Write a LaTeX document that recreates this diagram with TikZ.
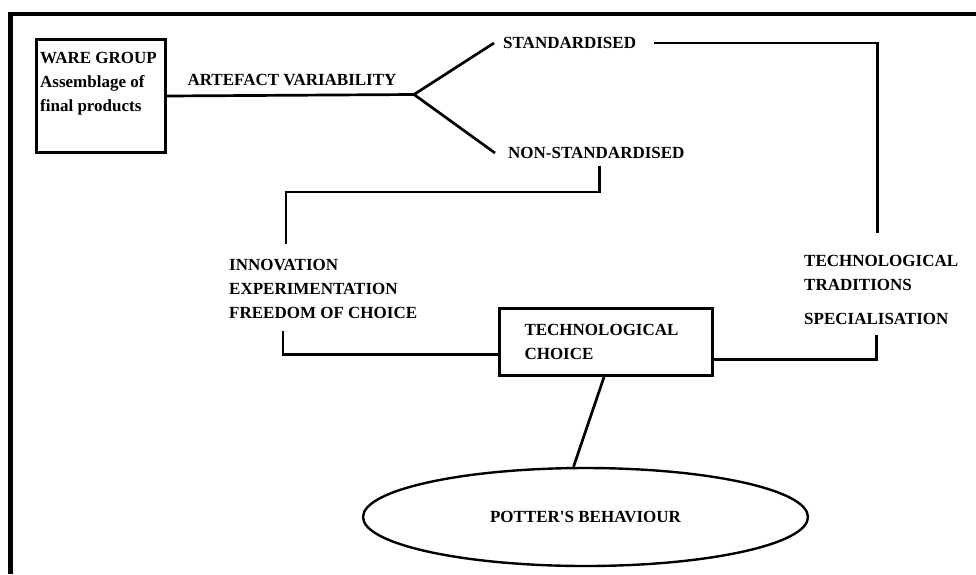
\documentclass[tikz,border=0pt]{standalone}
\usepackage{fontspec}
\setmainfont{Liberation Serif}
\usetikzlibrary{shapes.geometric}
\tikzset{
  txt/.style={font=\fontsize{17}{24}\selectfont\bfseries, inner sep=0pt, align=left},
  conn/.style={line width=2.7pt},
  boxed/.style={draw, line width=3pt},
  frame/.style={line width=4.5pt},
}
\begin{document}
\begin{tikzpicture}[x=1pt,y=1pt]
\useasboundingbox (0,0) rectangle (976,-574);
% outer frame (cut off at right and bottom)
\draw[frame] (10.5,-574) -- (10.5,-14) -- (976,-14);

% ware group box
\node[boxed, minimum width=129pt, minimum height=113pt, anchor=north west, inner sep=0pt] (ware) at (35,-38) {};
\node[txt, anchor=north west] (waretxt) at (40,-52) {WARE GROUP\\Assemblage of\\final products};

\node[txt] (artefact) at (292,-80) {ARTEFACT VARIABILITY};
\coordinate (fork) at (414,-94.5);

\node[txt, anchor=west, inner xsep=9pt] (std) at (494,-43) {STANDARDISED};
\node[txt, anchor=west, inner xsep=13pt, inner ysep=7pt] (nonstd) at (495,-153) {NON-STANDARDISED};

\node[txt, anchor=west] (innov) at (229,-289) {INNOVATION\\EXPERIMENTATION\\FREEDOM OF CHOICE};
\coordinate (innovtop) at (286,-244);
\coordinate (innovbot) at (283,-331);

\node[txt, anchor=west] (trad) at (804,-272.5) {TECHNOLOGICAL\\TRADITIONS};
\node[txt, anchor=west, inner ysep=10pt] (spec) at (804,-319) {SPECIALISATION};

\node[boxed, txt, anchor=north west, minimum width=213pt, minimum height=67pt,
      text width=163pt, inner xsep=25pt, inner ysep=0pt] (tc) at (498,-307) {TECHNOLOGICAL\\CHOICE};

\node[draw, ellipse, line width=2.4pt, minimum width=445pt, minimum height=98pt, inner sep=0pt,
      font=\fontsize{17}{24}\selectfont\bfseries] (pb) at (585.5,-517) {POTTER\textquotesingle S BEHAVIOUR};

% connectors
\draw[conn] (ware.east) -- (fork);
\draw[conn] (std.west) -- (fork) -- (nonstd.west);
\draw[conn] ([xshift=9pt]std.east) -| ([xshift=-4pt,yshift=22pt]trad.north);
\draw[conn] ([xshift=3pt]nonstd.south) -- ++(0,-26) -| (innovtop);
\draw[conn] (innovbot) |- ([yshift=-12.5pt]tc.west);
\draw[conn] ([yshift=-17.5pt]tc.east) -| (spec.south);
\draw[conn] ([xshift=-2pt]tc.south) -- ([xshift=-12pt]pb.north);
\end{tikzpicture}
\end{document}
